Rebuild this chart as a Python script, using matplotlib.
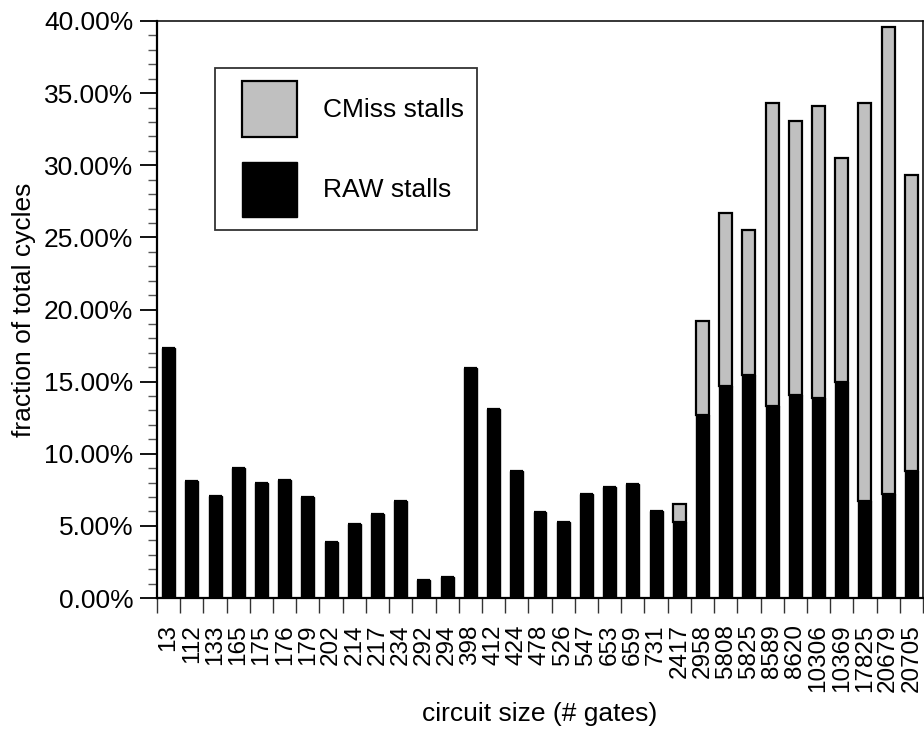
import matplotlib
matplotlib.use("Agg")
import matplotlib.pyplot as plt
from matplotlib.patches import Patch, Rectangle
from matplotlib.legend_handler import HandlerPatch
from matplotlib.ticker import FuncFormatter, MultipleLocator, FixedLocator
import numpy as np

plt.rcParams['font.family'] = ['Liberation Sans', 'DejaVu Sans']

circuits = ["13", "112", "133", "165", "175", "176", "179", "202", "214", "217",
            "234", "292", "294", "398", "412", "424", "478", "526", "547", "653",
            "659", "731", "2417", "2958", "5808", "5825", "8589", "8620", "10306",
            "10369", "17825", "20679", "20705"]
raw_stalls = [17.3, 8.1, 7.1, 9.0, 8.0, 8.2, 7.0, 3.9, 5.1, 5.8,
              6.7, 1.25, 1.45, 15.95, 13.1, 8.8, 5.95, 5.3, 7.2, 7.7,
              7.9, 6.0, 5.3, 12.7, 14.7, 15.45, 13.3, 14.05, 13.85,
              15.0, 6.7, 7.2, 8.8]
total_stalls = [17.3, 8.1, 7.1, 9.0, 8.0, 8.2, 7.0, 3.9, 5.1, 5.8,
                6.7, 1.25, 1.45, 15.95, 13.1, 8.8, 5.95, 5.3, 7.2, 7.7,
                7.9, 6.0, 6.5, 19.2, 26.7, 25.5, 34.3, 33.1, 34.1,
                30.5, 34.3, 39.6, 29.3]
cmiss_stalls = [t - r for t, r in zip(total_stalls, raw_stalls)]

FS = 19
XFS = 17.5

fig = plt.figure(figsize=(9.24, 7.29), dpi=100)
ax = fig.add_axes([157/924, 1 - 598/729, 766/924, 577/729])

x = np.arange(len(circuits))
w = 0.56
ax.bar(x, raw_stalls, width=w, color='black', edgecolor='black', linewidth=1.0,
       label='RAW stalls', zorder=2)
ax.bar(x, cmiss_stalls, width=w, bottom=raw_stalls, color='#c0c0c0',
       edgecolor='black', linewidth=1.6, label='CMiss stalls', zorder=2)

ax.set_xlim(-0.5, len(circuits) - 0.5)
ax.set_ylim(0, 40)

ax.yaxis.set_major_locator(MultipleLocator(5))
ax.yaxis.set_minor_locator(MultipleLocator(1))
ax.yaxis.set_major_formatter(FuncFormatter(lambda v, p: f"{v:.2f}%"))
ax.tick_params(axis='y', which='major', direction='out', length=12, width=1.3,
               labelsize=FS, pad=5)
ax.tick_params(axis='y', which='minor', direction='out', length=6.5, width=1.0,
               color='#555555')

ax.set_xticks(x)
ax.xaxis.set_minor_locator(FixedLocator(np.arange(-0.5, len(circuits), 1.0)))
ax.tick_params(axis='x', which='major', length=0, pad=19)
ax.tick_params(axis='x', which='minor', direction='out', length=11, width=1.0,
               color='#333333')
ax.set_xticklabels(circuits, rotation=90, va='top', ha='center', fontsize=XFS)

for side in ['left', 'bottom']:
    ax.spines[side].set_linewidth(1.6)
for side in ['top', 'right']:
    ax.spines[side].set_linewidth(1.1)

ax.set_xlabel('circuit size (# gates)', fontsize=FS, labelpad=7)
ax.set_ylabel('fraction of total cycles', fontsize=FS, labelpad=6)


def square_patch(legend, orig_handle, xdescent, ydescent, width, height, fontsize):
    return Rectangle((-xdescent + (width - height), -ydescent), height, height)


h_cmiss = Patch(facecolor='#c0c0c0', edgecolor='black', linewidth=1.6)
h_raw = Patch(facecolor='black', edgecolor='black', linewidth=1.0)
leg = ax.legend([h_cmiss, h_raw], ['CMiss stalls', 'RAW stalls'],
                loc='upper left', bbox_to_anchor=((215 - 157) / 766, 1 - (68.3 - 21) / 577),
                borderaxespad=0, fontsize=FS, frameon=True, fancybox=False,
                borderpad=0.5, handlelength=2.6, handleheight=2.83,
                labelspacing=0.95, handletextpad=1.0,
                handler_map={Patch: HandlerPatch(patch_func=square_patch)})
leg.get_frame().set_edgecolor('black')
leg.get_frame().set_linewidth(1.3)

fig.savefig('out.png', dpi=100)
